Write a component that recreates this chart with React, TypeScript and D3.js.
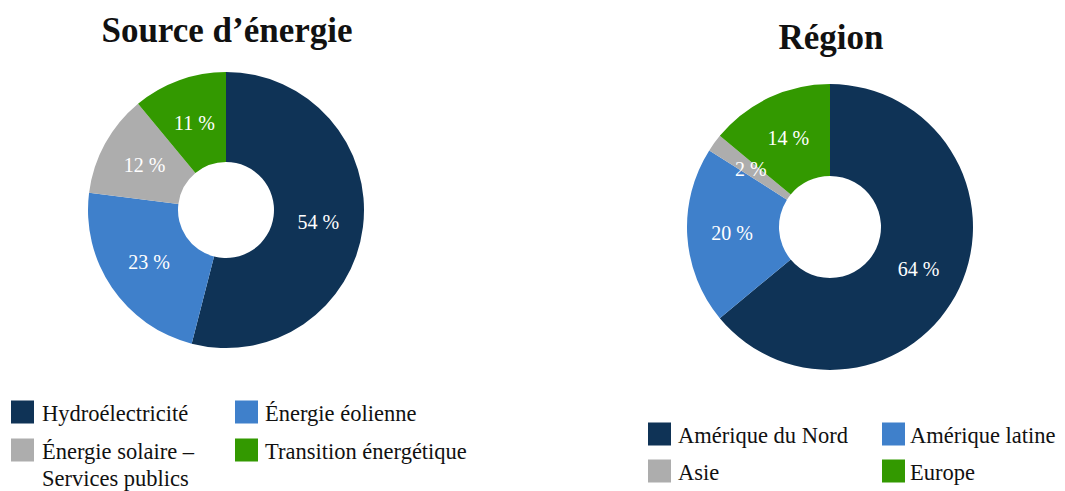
import React from "react";
import * as d3 from "d3";

const sourceCategories = ["Hydroélectricité", "Énergie éolienne", "Énergie solaire – Services publics", "Transition énergétique"];
const sourceValues = [54, 23, 12, 11];
const regionCategories = ["Amérique du Nord", "Amérique latine", "Asie", "Europe"];
const regionValues = [64, 20, 2, 14];
const colors = ["#0f3356", "#3f80cb", "#adadad", "#339900"];

const FONT = "'Liberation Serif', 'Times New Roman', serif";

type DonutProps = { values: number[]; cx: number; cy: number; r: number; ir: number; labelR: number };

function Donut({ values, cx, cy, r, ir, labelR }: DonutProps) {
  const pie = d3.pie<number>().sort(null).value((d) => d);
  const arcs = pie(values);
  const arc = d3.arc<d3.PieArcDatum<number>>().innerRadius(ir).outerRadius(r);
  const labelArc = d3.arc<d3.PieArcDatum<number>>().innerRadius(labelR).outerRadius(labelR);
  return (
    <g transform={`translate(${cx},${cy})`}>
      {arcs.map((a, i) => (
        <path key={i} d={arc(a) || ""} fill={colors[i]} />
      ))}
      {arcs.map((a, i) => {
        const [x, y] = labelArc.centroid(a);
        return (
          <text key={"t" + i} x={x} y={y} dy="0.35em" textAnchor="middle" fill="#ffffff" fontFamily={FONT} fontSize={20}>
            {a.data} %
          </text>
        );
      })}
    </g>
  );
}

export default function App() {
  return (
    <svg
      width={1065}
      height={491}
      style={{ display: "block", position: "absolute", left: 0, top: 0, background: "#fff" }}
    >
      <text x={227} y={42} textAnchor="middle" fontFamily={FONT} fontWeight="bold" fontSize={35} fill="#111">
        Source d’énergie
      </text>
      <text x={831} y={49} textAnchor="middle" fontFamily={FONT} fontWeight="bold" fontSize={35} fill="#111">
        Région
      </text>
      <Donut values={sourceValues} cx={226} cy={210} r={138} ir={48} labelR={93} />
      <Donut values={regionValues} cx={830} cy={227} r={143} ir={51} labelR={98} />

      {/* Left legend */}
      {sourceCategories.map((c, i) => {
        const col = i % 2;
        const row = Math.floor(i / 2);
        const sx = col === 0 ? 11 : 235;
        const tx = col === 0 ? 42 : 265;
        const cyRow = 412 + row * 38;
        const lines = c === "Énergie solaire – Services publics" ? ["Énergie solaire –", "Services publics"] : [c];
        return (
          <g key={c}>
            <rect x={sx} y={cyRow - 11.5} width={23} height={23} fill={colors[i]} />
            {lines.map((l, j) => (
              <text key={j} x={tx} y={cyRow + 9 + j * 27} fontFamily={FONT} fontSize={22.5} fill="#111">
                {l}
              </text>
            ))}
          </g>
        );
      })}

      {/* Right legend */}
      {regionCategories.map((c, i) => {
        const col = i % 2;
        const row = Math.floor(i / 2);
        const sx = col === 0 ? 648 : 882;
        const tx = col === 0 ? 678 : 910;
        const cyRow = 434 + row * 37;
        return (
          <g key={c}>
            <rect x={sx} y={cyRow - 11.5} width={23} height={23} fill={colors[i]} />
            <text x={tx} y={cyRow + 9} fontFamily={FONT} fontSize={22.5} fill="#111">
              {c}
            </text>
          </g>
        );
      })}
    </svg>
  );
}
